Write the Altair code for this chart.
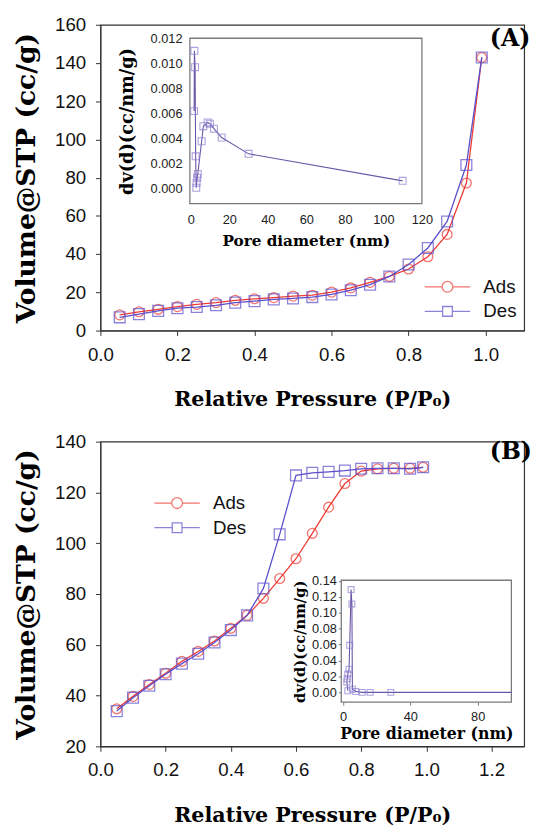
import altair as alt
import pandas as pd

# ---------------- data ----------------
series_names = ["Ads", "Des"]
panel_tags = ["(A)", "(B)"]

pressure = [0.05, 0.10, 0.15, 0.20, 0.25, 0.30, 0.35, 0.40, 0.45, 0.50,
            0.55, 0.60, 0.65, 0.70, 0.75, 0.80, 0.85, 0.90, 0.95, 0.99]

# Panel A isotherm
ads_a = [8.2, 9.8, 11.1, 12.5, 13.7, 14.6, 15.8, 16.6, 17.2, 18.0,
         18.5, 20.1, 22.3, 25.2, 28.3, 32.2, 38.6, 50.3, 77.2, 142.9]
des_a = [6.9, 8.6, 10.3, 11.7, 12.3, 13.2, 14.6, 15.4, 16.3, 16.8,
         17.5, 18.9, 21.1, 24.0, 28.3, 34.6, 43.2, 57.1, 86.6, 142.9]

# Panel B isotherm
ads_b = [34.8, 39.7, 44.4, 48.8, 53.5, 57.4, 61.5, 66.5, 71.6, 78.3,
         86.1, 93.9, 103.9, 114.2, 123.5, 128.4, 129.3, 129.5, 129.5, 129.9]
des_b = [33.9, 39.2, 43.9, 48.4, 52.6, 56.5, 60.9, 65.8, 71.6, 82.2,
         103.5, 126.7, 127.7, 128.1, 128.6, 129.3, 129.5, 129.5, 129.3, 129.9]

# Inset A: pore size distribution
pore_a = [1.7, 1.85, 2.2, 2.5, 2.8, 3.0, 3.3, 3.6, 5.6, 6.5, 8.7, 9.9, 12.0, 16.0, 30.0, 110.0]
dv_a = [0.0062, 0.0110, 0.0097, 0.0026, 0.0001, 0.0005, 0.0009, 0.0012,
        0.0038, 0.0050, 0.0053, 0.0052, 0.0048, 0.0041, 0.0028, 0.00065]

# Inset B: pore size distribution (last point is the flat tail, drawn without marker)
pore_b = [2.9, 2.3, 2.5, 2.9, 3.6, 4.0, 4.8, 5.3, 5.6, 7.6, 11.4, 16.1, 28.4, 100.0]
dv_b = [0.002, 0.013, 0.017, 0.023, 0.029, 0.059, 0.129, 0.111, 0.004, 0.001, 0.0, 0.0, 0.0, 0.0]

# ---------------- style ----------------
RED = "#ee3a32"
BLUE = "#5a50cc"
INSET_LINE = "#6a55a8"
INSET_MARK = "#8a7bd0"
FRAME = "#333333"
SANS = "Liberation Sans"
SERIF = "DejaVu Serif"

PATH_CIRCLE = "M-4.2,0L-1,0M1,0L4.2,0M-1,0A1,1,0,1,1,1,0A1,1,0,1,1,-1,0"
PATH_SQUARE = "M-4.2,0L-0.9,0M0.9,0L4.2,0M-0.9,-0.9L0.9,-0.9L0.9,0.9L-0.9,0.9Z"

W = 431


def iso_df(ads, des):
    rows = []
    for name, vals in zip(series_names, [ads, des]):
        for i, (p, v) in enumerate(zip(pressure, vals)):
            rows.append({"p": p, "v": v, "series": name, "i": i})
    return pd.DataFrame(rows)


def main_layers(ads, des, xdom, xticks, ydom, yticks, leg_x, leg_y, tag, tag_y):
    df = iso_df(ads, des)
    xs = alt.Scale(domain=xdom, nice=False, zero=False)
    ys = alt.Scale(domain=ydom, nice=False, zero=False)
    xaxis = alt.Axis(orient="bottom", values=xticks, format=".1f",
                     title="Relative Pressure (P/P₀)",
                     labelFont=SANS, labelFontSize=19, labelColor="#111",
                     labelPadding=10, tickSize=5, tickColor=FRAME, domainColor=FRAME,
                     titleFont=SERIF, titleFontWeight="bold", titleFontSize=21,
                     titleColor="#000", titlePadding=25, grid=False,
                     labelFlush=False, labelOverlap=False)
    yaxis = alt.Axis(orient="left", values=yticks, format="d", title="Volume@STP (cc/g)",
                     labelFont=SANS, labelFontSize=19, labelColor="#111",
                     labelPadding=10, tickSize=5, tickColor=FRAME, domainColor=FRAME,
                     titleFont=SERIF, titleFontWeight="bold", titleFontSize=27,
                     titleColor="#000", titlePadding=14, grid=False,
                     labelFlush=False, labelOverlap=False)
    layers = []
    first = True
    for name, col, shape, size in [("Ads", RED, "circle", 100), ("Des", BLUE, "square", 121)]:
        sub = df[df.series == name]
        ax_x = xaxis if first else None
        ax_y = yaxis if first else None
        first = False
        line = alt.Chart(sub).mark_line(color=col, strokeWidth=1.3).encode(
            x=alt.X("p:Q", scale=xs, axis=ax_x),
            y=alt.Y("v:Q", scale=ys, axis=ax_y),
            order="i:Q",
        )
        pts = alt.Chart(sub).mark_point(shape=shape, filled=False, color=col,
                                        size=size, strokeWidth=1.3).encode(
            x=alt.X("p:Q", scale=xs, axis=None),
            y=alt.Y("v:Q", scale=ys, axis=None),
        )
        layers += [line, pts]
    leg = alt.Legend(orient="none", legendX=leg_x, legendY=leg_y, title=None,
                     labelFont=SANS, labelFontSize=19, labelColor="#111",
                     symbolSize=121, symbolStrokeWidth=1.3, labelOffset=27,
                     rowPadding=5, padding=0)
    legend_layer = alt.Chart(df).transform_filter("false").mark_point(
        filled=False, size=121, strokeWidth=1.3).encode(
        x=alt.X("p:Q", scale=xs, axis=None),
        y=alt.Y("v:Q", scale=ys, axis=None),
        shape=alt.Shape("series:N", scale=alt.Scale(domain=series_names,
                                                     range=[PATH_CIRCLE, PATH_SQUARE]), legend=leg),
        stroke=alt.Stroke("series:N", scale=alt.Scale(domain=series_names,
                                                       range=[RED, BLUE]), legend=leg),
    )
    tag_layer = alt.Chart(pd.DataFrame({"t": [tag]})).mark_text(
        font=SERIF, fontWeight="bold", fontSize=24, align="left", baseline="middle",
        color="#000").encode(x=alt.value(396), y=alt.value(tag_y), text="t:N")
    return layers + [legend_layer, tag_layer]


def inset_layers(pore, dv, n_marked, xdom, xrange, xticks, ydom, yrange, yticks, yfmt,
                 xoff, yoff, lab_size, title_x_size, title_y_size, tick, lpad_x, lpad_y,
                 tpad_x, tpad_y, msize):
    df = pd.DataFrame({"d": pore, "dv": dv, "i": list(range(len(pore)))})
    xs = alt.Scale(domain=xdom, range=xrange, nice=False, zero=False)
    ys = alt.Scale(domain=ydom, range=yrange, nice=False, zero=False)
    xaxis = alt.Axis(orient="bottom", offset=xoff, values=xticks, format="d",
                     title="Pore diameter (nm)", labelFont=SANS, labelFontSize=lab_size,
                     labelColor="#222", tickSize=tick, tickColor="#777", domain=False,
                     labelPadding=lpad_x, titleFont=SERIF, titleFontWeight="bold",
                     titleFontSize=title_x_size, titleColor="#000", titlePadding=tpad_x,
                     grid=False, labelFlush=False, labelOverlap=False)
    yaxis = alt.Axis(orient="left", offset=yoff, values=yticks, format=yfmt,
                     title="dv(d)(cc/nm/g)", labelFont=SANS, labelFontSize=lab_size,
                     labelColor="#222", tickSize=tick, tickColor="#777", domain=False,
                     labelPadding=lpad_y, titleFont=SERIF, titleFontWeight="bold",
                     titleFontSize=title_y_size, titleColor="#000", titlePadding=tpad_y,
                     grid=False, labelFlush=False, labelOverlap=False)
    frame_df = pd.DataFrame({"x0": [xdom[0]], "x1": [xdom[1]], "y0": [ydom[0]], "y1": [ydom[1]]})
    frame = alt.Chart(frame_df).mark_rect(fillOpacity=0, stroke="#7a7a7a", strokeWidth=1.3).encode(
        x=alt.X("x0:Q", scale=xs, axis=xaxis),
        x2="x1:Q",
        y=alt.Y("y0:Q", scale=ys, axis=yaxis),
        y2="y1:Q",
    )
    line = alt.Chart(df).mark_line(color=INSET_LINE, strokeWidth=1.1).encode(
        x=alt.X("d:Q", scale=xs, axis=None),
        y=alt.Y("dv:Q", scale=ys, axis=None),
        order="i:Q",
    )
    pts = alt.Chart(df.iloc[:n_marked]).mark_point(shape="square", filled=False,
                                                  color=INSET_MARK, size=msize,
                                                  strokeWidth=1.1).encode(
        x=alt.X("d:Q", scale=xs, axis=None),
        y=alt.Y("dv:Q", scale=ys, axis=None),
    )
    return [frame, line, pts]


HA, HB = 311, 310

layers_a = main_layers(ads_a, des_a, [0, 1.1], [0, 0.2, 0.4, 0.6, 0.8, 1.0],
                       [0, 160], list(range(0, 161, 20)), 343.5, 257, panel_tags[0], 15)
layers_a += inset_layers(pore_a, dv_a, len(pore_a), [-0.5, 120], [91, 327],
                         [0, 20, 40, 60, 80, 100, 120], [-0.00117, 0.012], [182, 13.7],
                         [0, 0.002, 0.004, 0.006, 0.008, 0.010, 0.012], ".3f",
                         -(HA - 182), -91, 13, 15.5, 18, 0, 10, 8, 7, 14, 49)
panel_a = alt.layer(*layers_a).resolve_scale(x="independent", y="independent").properties(
    width=W, height=HA)

layers_b = main_layers(ads_b, des_b, [0, 1.3], [0, 0.2, 0.4, 0.6, 0.8, 1.0, 1.2],
                       [20, 140], list(range(20, 141, 20)), 68.5, 53, panel_tags[1], 11)
layers_b += inset_layers(pore_b, dv_b, len(pore_b) - 1, [-1, 100], [245, 418],
                         [0, 40, 80], [-0.0123, 0.1407], [265, 141],
                         [0, 0.02, 0.04, 0.06, 0.08, 0.10, 0.12, 0.14], ".2f",
                         -(HB - 265), -245, 13, 16, 15, 3, 6, 2, 2, 4, 36)
panel_b = alt.layer(*layers_b).resolve_scale(x="independent", y="independent").properties(
    width=W, height=HB)

chart = alt.vconcat(panel_a, panel_b, spacing=22).resolve_scale(
    shape="independent", stroke="independent").resolve_legend(
    shape="independent", stroke="independent").properties(
    padding={"left": 4, "top": 0, "right": 0, "bottom": 0}).configure_view(
    stroke=FRAME, strokeWidth=1.2).configure_axis(grid=False)

chart.save("out.html", embed_options={"renderer": "svg", "actions": False})
